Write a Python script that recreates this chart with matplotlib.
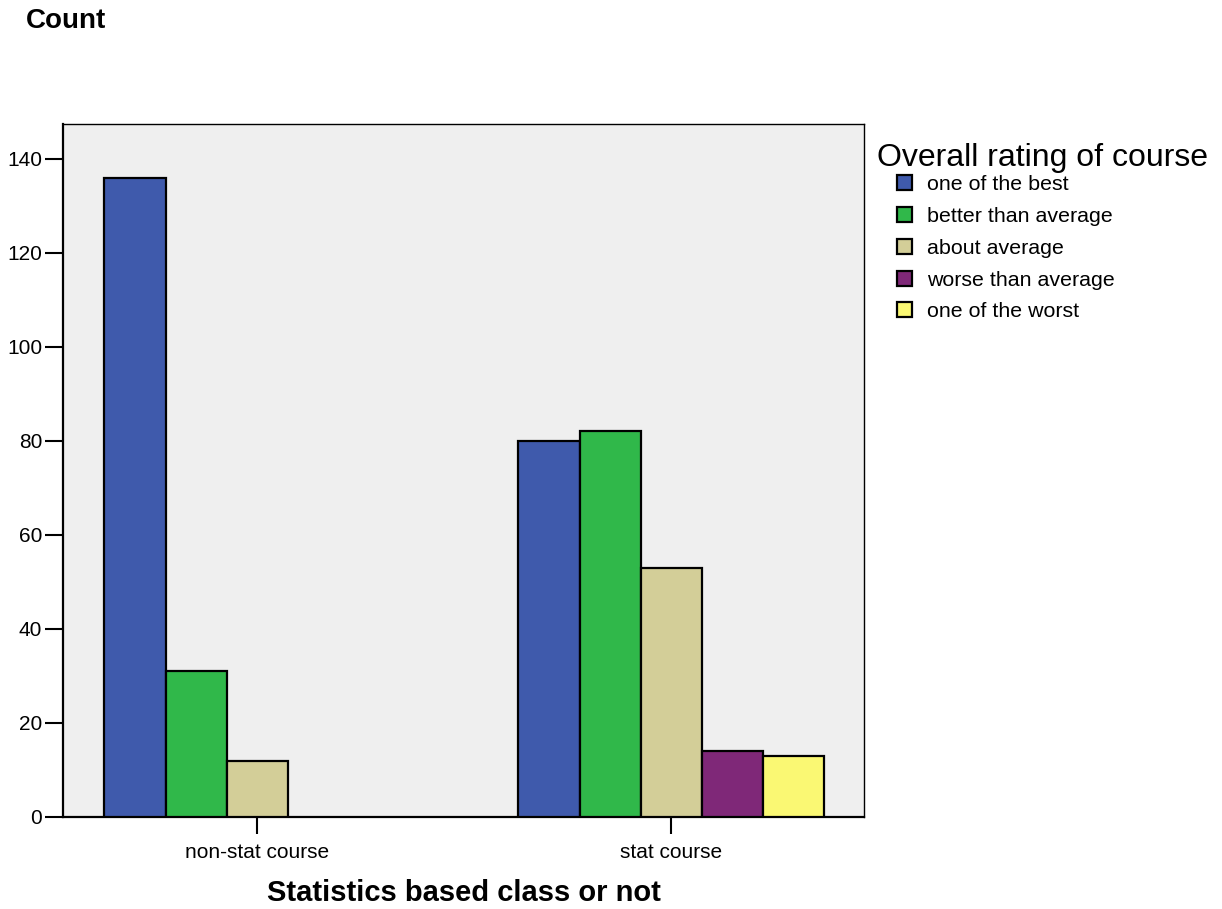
import numpy as np
import matplotlib.pyplot as plt
from matplotlib.patches import Patch

plt.rcParams['font.family'] = ['Liberation Sans', 'DejaVu Sans']

# 数据
groups = ['non-stat course', 'stat course']
ratings = ['one of the best', 'better than average', 'about average',
           'worse than average', 'one of the worst']
counts = {
    'one of the best': [136, 80],
    'better than average': [31, 82],
    'about average': [12, 53],
    'worse than average': [0, 14],
    'one of the worst': [0, 13],
}
colors = ['#3F5AAC', '#30B84A', '#D3CE98', '#7F2878', '#FAF873']

W, H = 1222, 909
fig = plt.figure(figsize=(W / 100, H / 100), dpi=100)
ax = fig.add_axes([63 / W, (H - 817) / H, 801 / W, 693 / H])
ax.set_facecolor('#EFEFEF')

x = np.arange(len(groups))
bw = 0.1475
for i, r in enumerate(ratings):
    vals = counts[r]
    xs = x + (i - 2) * bw
    for xi, v in zip(xs, vals):
        if v > 0:
            ax.bar(xi, v, width=bw, color=colors[i], edgecolor='black', linewidth=1.6, zorder=3)

ax.set_xlim(-0.469, 1.466)
ax.set_ylim(0, 147.4)
ax.set_yticks(range(0, 141, 20))
ax.set_xticks(x)
ax.set_xticklabels(groups, fontsize=15)
ax.tick_params(axis='y', labelsize=15, length=13, width=1.5, pad=2)
ax.tick_params(axis='x', length=12, width=1.5, pad=7)
for s in ax.spines.values():
    s.set_linewidth(1)
ax.spines['left'].set_linewidth(1.6)
ax.spines['bottom'].set_linewidth(1.6)

ax.set_xlabel('Statistics based class or not', fontsize=21, fontweight='bold', labelpad=12)
fig.text(26 / W, 1 - 21 / H, 'Count', fontsize=20, fontweight='bold', va='center', ha='left')

# 图例
fig.text(877 / W, 1 - 166 / H, 'Overall rating of course', fontsize=23, va='baseline', ha='left')
handles = [Patch(facecolor=c, edgecolor='black', linewidth=1.6) for c in colors]
leg = fig.legend(handles, ratings, loc='upper left', bbox_to_anchor=(897 / W, 1 - 175 / H),
                 frameon=False, fontsize=15.4, handlelength=0.7, handleheight=0.7,
                 labelspacing=0.6, handletextpad=0.7, borderaxespad=0, borderpad=0)

fig.savefig('out.png', dpi=100)
